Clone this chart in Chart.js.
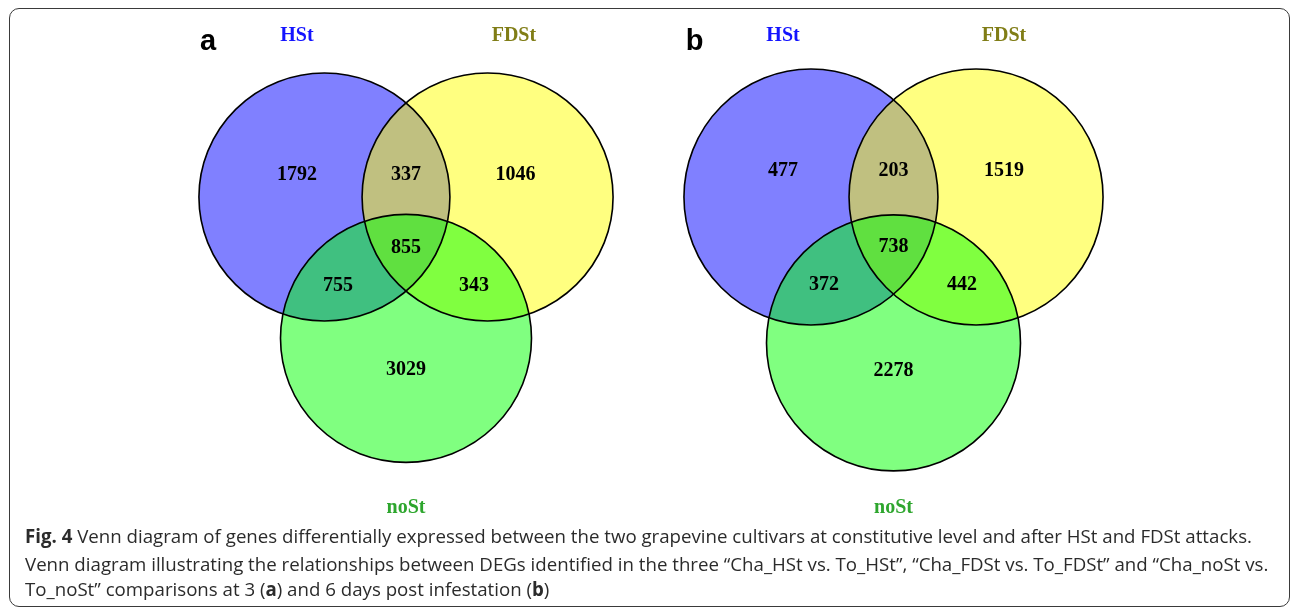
<!DOCTYPE html>
<html>
<head>
<meta charset="utf-8">
<script src="https://cdn.jsdelivr.net/npm/chart.js@4.4.1/dist/chart.umd.min.js"></script>
<style>
  html, body { margin: 0; padding: 0; background: #fff; width: 1290px; height: 609px; overflow: hidden; }
  #frame { position: absolute; left: 9px; top: 8px; width: 1281px; height: 599px; box-sizing: border-box;
           border: 1.5px solid #3a3a3a; border-radius: 10px; }
  .panel { position: absolute; top: 0; }
  .cap { position: absolute; left: 25px; font-family: "Open Sans", sans-serif; color: #2b2b2b;
         white-space: nowrap; line-height: 1; }
  .cap b { font-weight: 700; }
</style>
</head>
<body>
<div id="frame"></div>
<canvas id="venn-a" class="panel" width="645" height="609" style="left:0"></canvas>
<canvas id="venn-b" class="panel" width="645" height="609" style="left:645px"></canvas>
<div class="cap" id="cap1"><b>Fig. 4</b> Venn diagram of genes differentially expressed between the two grapevine cultivars at constitutive level and after HSt and FDSt attacks.</div>
<div class="cap" id="cap2">Venn diagram illustrating the relationships between DEGs identified in the three “Cha_HSt vs. To_HSt”, “Cha_FDSt vs. To_FDSt” and “Cha_noSt vs.</div>
<div class="cap" id="cap3">To_noSt” comparisons at 3 (<b>a</b>) and 6 days post infestation (<b>b</b>)</div>

<script>
// ---- data -------------------------------------------------------------
const setNames = ['HSt', 'FDSt', 'noSt'];
// region order: HSt only, HSt∩FDSt, FDSt only, all three, HSt∩noSt, FDSt∩noSt, noSt only
const regionNames = ['HSt', 'HSt&FDSt', 'FDSt', 'HSt&FDSt&noSt', 'HSt&noSt', 'FDSt&noSt', 'noSt'];
const countsDay3 = [1792, 337, 1046, 855, 755, 343, 3029];
const countsDay6 = [477, 203, 1519, 738, 372, 442, 2278];
const panelLetters = ['a', 'b'];

// ---- layout (unit = one set radius, y up) -----------------------------
const setCentres = [[-0.65, 0], [0.65, 0], [0, -1.14]];
const panelLayouts = [
  { origin: [406, 197], unit: [125.5, 124],
    regions: [[-0.869, 0.196], [0, 0.196], [0.873, 0.196], [0, -0.395], [-0.542, -0.70], [0.542, -0.70], [0, -1.379]],
    names: [[-0.869, 1.315], [0.86, 1.315], [0, -2.49]],
    letter: [-1.578, 1.185] },
  { origin: [893.5 - 645, 197], unit: [127, 128],
    regions: [[-0.870, 0.219], [0, 0.219], [0.870, 0.219], [0, -0.37], [-0.547, -0.672], [0.539, -0.672], [0, -1.344]],
    names: [[-0.870, 1.273], [0.870, 1.273], [0, -2.414]],
    letter: [-1.567, 1.148] }
];

// ---- styles -----------------------------------------------------------
const setFill = ['#8080ff', '#ffff80', '#80ff80'];
const pairFill = { '01': '#c0c080', '02': '#40c080', '12': '#80ff40' };
const tripleFill = '#60e040';
const setLabelColour = ['#1414ff', '#807d16', '#2ea62e'];

const vennPlugin = {
  id: 'venn',
  beforeDatasetsDraw(chart) {
    const { ctx } = chart;
    const sx = chart.scales.x, sy = chart.scales.y;
    const rx = Math.abs(sx.getPixelForValue(1) - sx.getPixelForValue(0));
    const ry = Math.abs(sy.getPixelForValue(1) - sy.getPixelForValue(0));
    const pts = chart.getDatasetMeta(0).data;
    const ell = i => { ctx.beginPath(); ctx.ellipse(pts[i].x, pts[i].y, rx, ry, 0, 0, Math.PI * 2); };
    ctx.save();
    for (let i = 0; i < 3; i++) { ell(i); ctx.fillStyle = setFill[i]; ctx.fill(); }
    for (const key of Object.keys(pairFill)) {
      const [a, b] = key.split('').map(Number);
      ctx.save(); ell(a); ctx.clip(); ell(b); ctx.fillStyle = pairFill[key]; ctx.fill(); ctx.restore();
    }
    ctx.save(); ell(0); ctx.clip(); ell(1); ctx.clip(); ell(2); ctx.fillStyle = tripleFill; ctx.fill(); ctx.restore();
    ctx.lineWidth = 1.6; ctx.strokeStyle = '#000';
    for (let i = 0; i < 3; i++) { ell(i); ctx.stroke(); }
    ctx.restore();
  },
  afterDatasetsDraw(chart, args, opts) {
    const { ctx } = chart;
    ctx.save();
    ctx.textAlign = 'center'; ctx.textBaseline = 'middle';
    ctx.font = 'bold 20px "Liberation Serif", "Times New Roman", serif';
    ctx.fillStyle = '#000';
    const regionData = chart.data.datasets[1].data;
    chart.getDatasetMeta(1).data.forEach((p, i) => ctx.fillText(String(regionData[i].v), p.x, p.y + 2));
    chart.getDatasetMeta(2).data.forEach((p, i) => {
      ctx.fillStyle = setLabelColour[i];
      ctx.fillText(setNames[i], p.x, p.y + 2);
    });
    const lp = chart.getDatasetMeta(3).data[0];
    ctx.textBaseline = 'alphabetic';
    ctx.font = 'bold 29px "Liberation Sans", Arial, sans-serif';
    ctx.fillStyle = '#000';
    ctx.fillText(opts.letter, lp.x, lp.y);
    ctx.restore();
  }
};

function drawPanel(id, counts, letter, layout) {
  const cv = document.getElementById(id);
  const W = cv.width, H = cv.height;
  const [ox, oy] = layout.origin, [ux, uy] = layout.unit;
  const pt = ([x, y]) => ({ x, y });
  return new Chart(cv, {
    type: 'scatter',
    data: {
      datasets: [
        { label: 'sets', data: setCentres.map(pt), pointRadius: 0 },
        { label: 'regions', data: layout.regions.map((a, i) => ({ x: a[0], y: a[1], v: counts[i], name: regionNames[i] })), pointRadius: 0 },
        { label: 'set names', data: layout.names.map(pt), pointRadius: 0 },
        { label: 'panel', data: [pt(layout.letter)], pointRadius: 0 }
      ]
    },
    options: {
      responsive: false, animation: false, devicePixelRatio: 1, events: [],
      layout: { padding: 0 },
      plugins: { legend: { display: false }, tooltip: { enabled: false }, venn: { letter } },
      scales: {
        x: { type: 'linear', display: false, min: -ox / ux, max: (W - ox) / ux },
        y: { type: 'linear', display: false, min: -(H - oy) / uy, max: oy / uy }
      }
    },
    plugins: [vennPlugin]
  });
}

drawPanel('venn-a', countsDay3, panelLetters[0], panelLayouts[0]);
drawPanel('venn-b', countsDay6, panelLetters[1], panelLayouts[1]);

// caption: size the type so the first line spans the text block
(function () {
  const c = document.createElement('canvas').getContext('2d');
  c.font = '20px "Open Sans"';
  const w = c.measureText(document.getElementById('cap1').textContent).width;
  const size = 20 * 1225 / w;
  const tops = [537, 565, 590];
  ['cap1', 'cap2', 'cap3'].forEach((id, i) => {
    const el = document.getElementById(id);
    el.style.fontSize = size.toFixed(2) + 'px';
    el.style.top = (tops[i] - size * 0.55) + 'px';
  });
})();
</script>
</body>
</html>
